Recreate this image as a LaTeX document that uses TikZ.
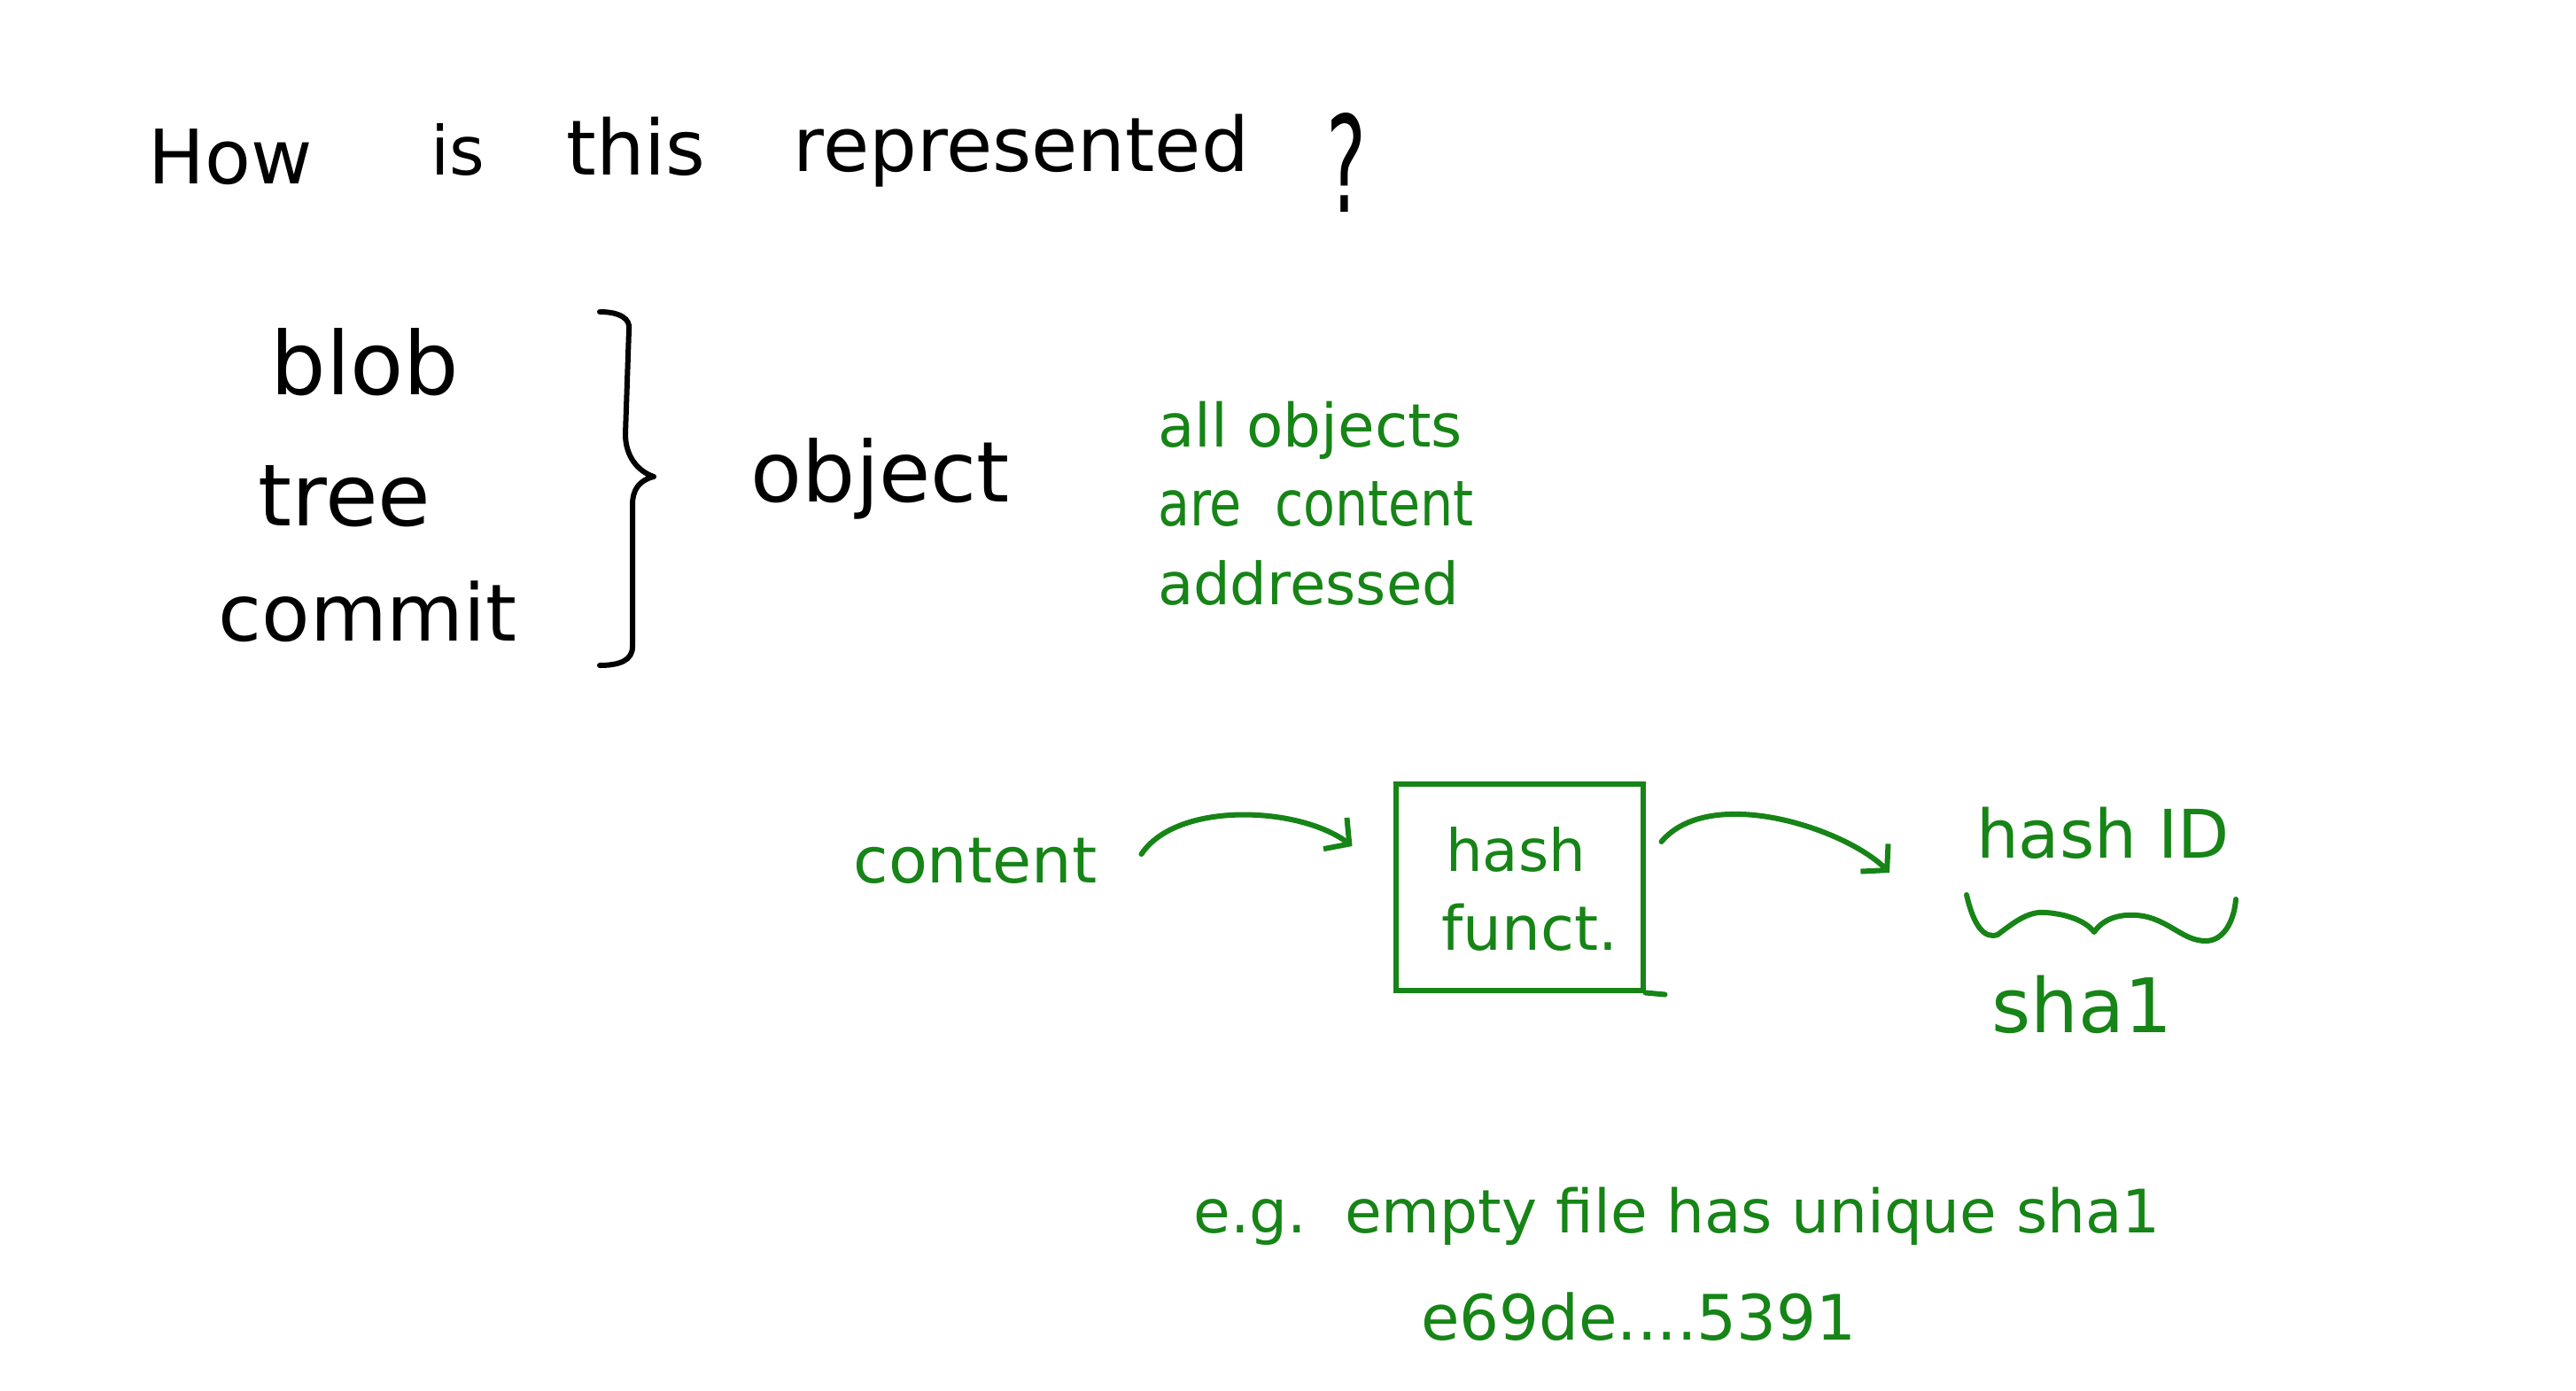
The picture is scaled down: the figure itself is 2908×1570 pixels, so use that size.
\documentclass[tikz,border=0pt]{standalone}
\usepackage{fontspec}
\setmainfont{DejaVu Sans}
\usepackage{graphicx}
\usetikzlibrary{arrows.meta}
\definecolor{hgreen}{RGB}{22,132,22}
\newcommand\fitto[2]{\resizebox{#1}{!}{#2}}
\newcommand\fitwh[3]{\resizebox{#1}{#2}{#3}}
\begin{document}
\begin{tikzpicture}[x=1pt,y=-1pt,
  txt/.style={inner sep=0pt,outer sep=0pt,anchor=base,font=\fontsize{40}{48}\selectfont},
  gtxt/.style={txt,text=hgreen},
  ink/.style={line width=6pt,line cap=round,line join=round},
  gink/.style={ink,draw=hgreen},
  garrow/.style={gink,-{Straight Barb[length=20pt,width=44pt,line width=6pt]}}]
\useasboundingbox[fill=white] (0,0) rectangle (2908,1570);
% title
\node[txt] (how) at (260,208) {\fitto{185pt}{How}};
\node[txt] (is) at (517,198) {\fitto{61pt}{is}};
\node[txt] (this) at (718,198) {\fitto{157pt}{this}};
\node[txt] (repr) at (1153,194) {\fitto{514pt}{represented}};
\node[txt] (qm) at (1520,240) {\fitwh{45pt}{112pt}{?}};
% object kinds
\node[txt] (blob) at (412,445) {\fitto{213pt}{blob}};
\node[txt] (tree) at (389,593) {\fitto{195pt}{tree}};
\node[txt] (commit) at (415,723) {\fitto{337pt}{commit}};
\draw[ink] (677,352) .. controls (700,352) and (712,360) .. (710,372)
  -- (706,490) .. controls (706,515) and (720,532) .. (738,538)
  .. controls (722,542) and (714,552) .. (714,570)
  -- (714,730) .. controls (714,745) and (700,751) .. (677,751);
\node[txt] (object) at (994,566) {\fitto{292pt}{object}};
% green note
\node[gtxt,anchor=base west] (n1) at (1307,504) {\fitto{344pt}{all objects}};
\node[gtxt,anchor=base west] (n2) at (1307,593) {\fitwh{357pt}{50pt}{are\ \ content}};
\node[gtxt,anchor=base west] (n3) at (1307,682) {\fitto{340pt}{addressed}};
% hashing
\node[gtxt] (content) at (1101,996) {\fitto{275pt}{content}};
\node[draw=hgreen,line width=6pt,minimum width=279pt,minimum height=233pt,inner sep=0pt] (box) at (1715,1001) {};
\node[gtxt] (hash) at (1711,983) {\fitto{158pt}{hash}};
\node[gtxt] (funct) at (1727,1072) {\fitto{199pt}{funct.}};
\draw[gink] (box.south east) -- ++(22,2);
\node[gtxt] (hashid) at (2374,968) {\fitto{286pt}{hash ID}};
\node[gtxt] (sha) at (2350,1165) {\fitto{204pt}{sha1}};
\draw[garrow] ([xshift=50pt,yshift=32pt]content.base east)
  .. controls +(40,-60) and +(-60,-45) .. ([xshift=-46pt,yshift=46pt]box.west);
\draw[garrow] ([xshift=18pt,yshift=51pt]box.east)
  .. controls +(55,-65) and +(-50,-50) .. ([xshift=-98pt,yshift=-17pt]hashid.base west);
% wavy brace
\draw[gink] (2220,1010) .. controls (2228,1045) and (2240,1060) .. (2255,1055)
  .. controls (2275,1040) and (2290,1028) .. (2310,1030)
  .. controls (2335,1032) and (2355,1040) .. (2364,1052)
  .. controls (2375,1036) and (2395,1030) .. (2420,1034)
  .. controls (2450,1040) and (2465,1062) .. (2490,1062)
  .. controls (2510,1062) and (2522,1040) .. (2524,1015);
% bottom note
\node[gtxt] (eg) at (1893,1391) {\fitto{1091pt}{e.g.\ \ empty\ file\ has\ unique\ sha1}};
\node[gtxt] (hex) at (1850,1512) {\fitto{492pt}{e69de....5391}};
\end{tikzpicture}
\end{document}
